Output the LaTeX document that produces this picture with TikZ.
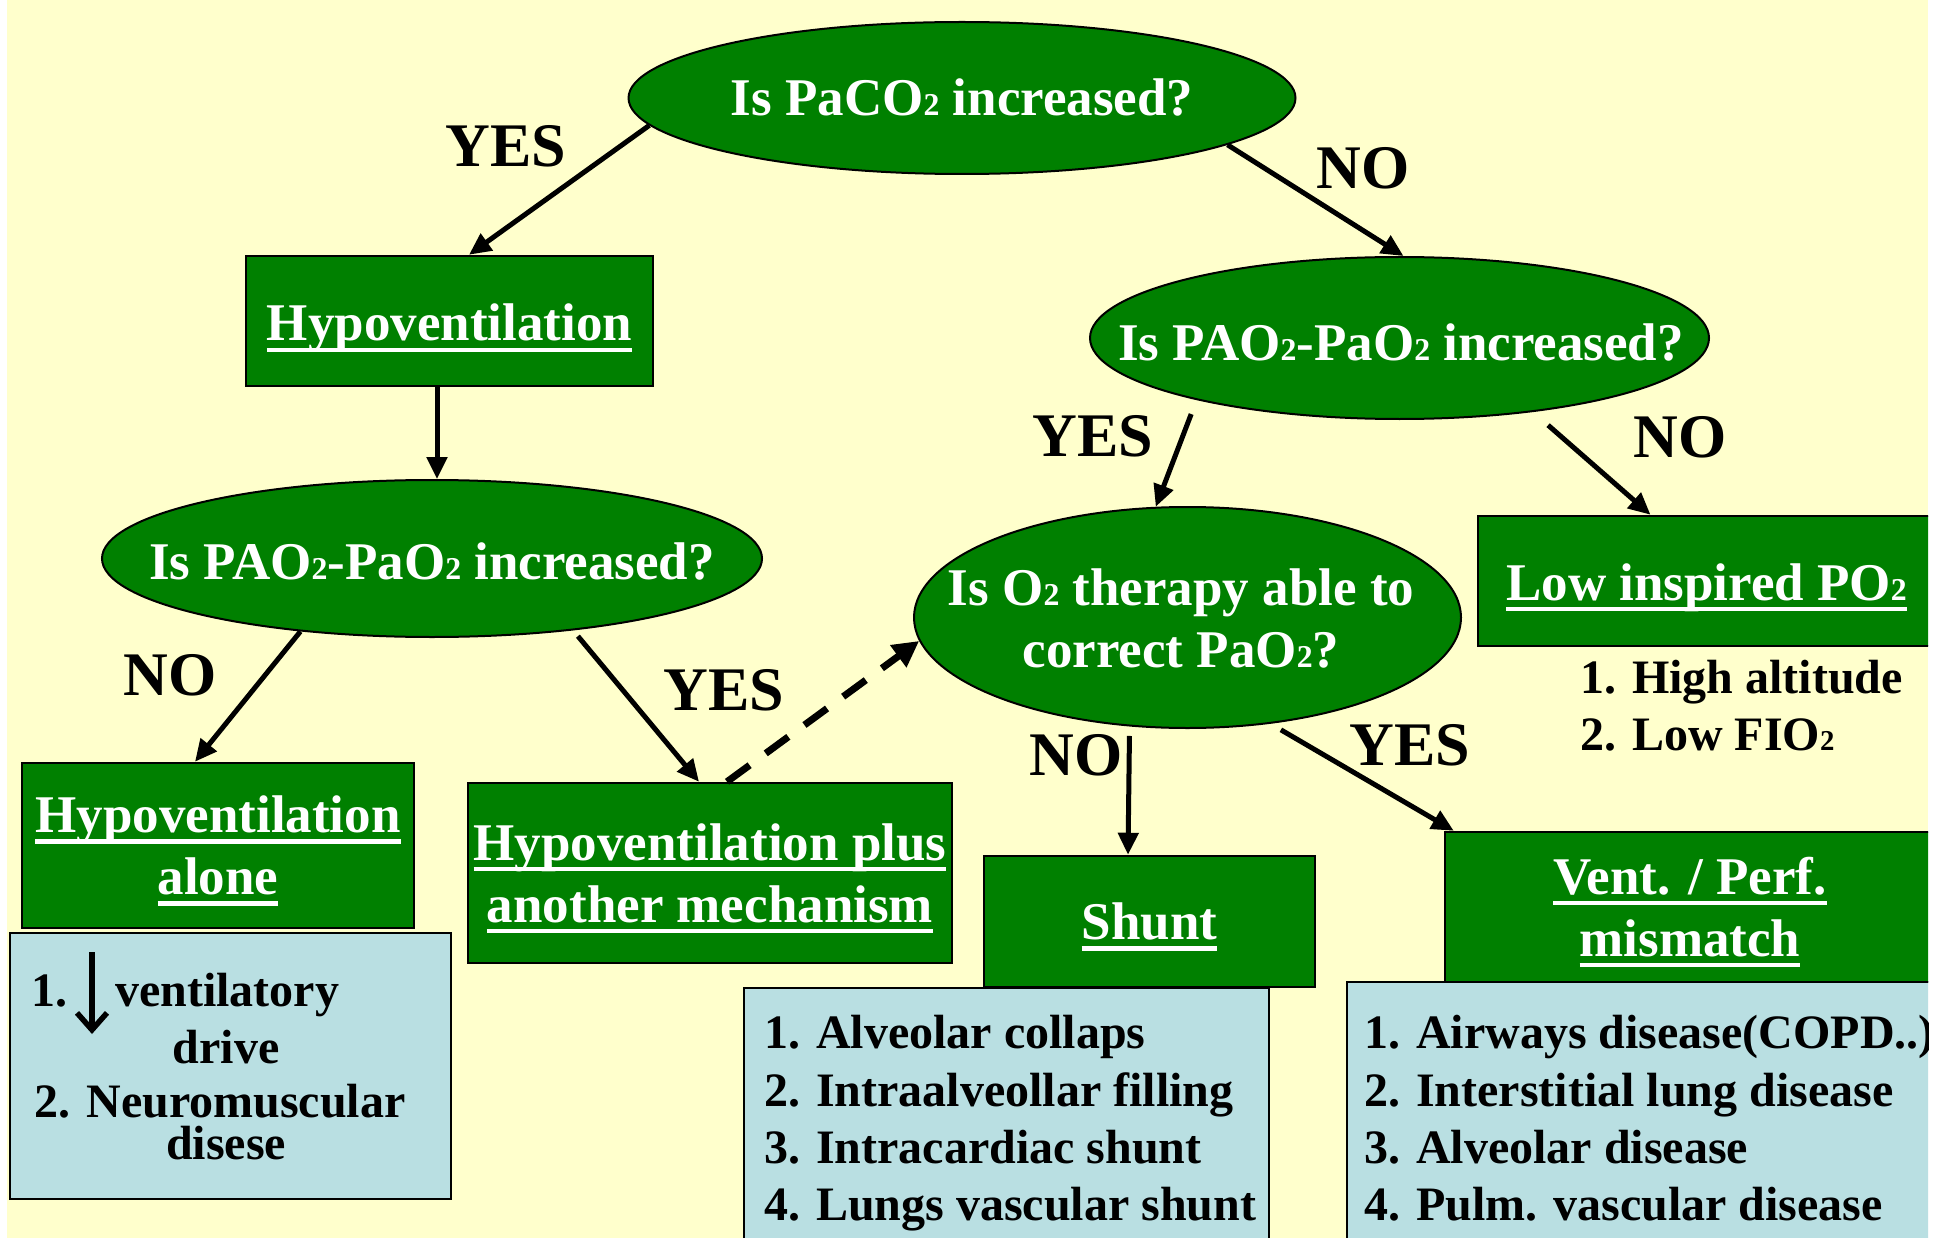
\documentclass[tikz,border=0pt]{standalone}
\usepackage{fontspec}
\setmainfont{Liberation Serif}
\usepackage{graphicx}
\usetikzlibrary{shapes.geometric,arrows.meta}
\definecolor{bgy}{HTML}{FFFFCC}
\definecolor{grn}{HTML}{008000}
\definecolor{lblue}{HTML}{B9DFE2}
\newcommand\ulw[1]{\setbox0=\hbox{#1}\rlap{\smash{\rule[-11pt]{\wd0}{4.5pt}}}\box0}
\newcommand\sbt[1]{\scalebox{0.6}{#1}}
\begin{document}
\begin{tikzpicture}[x=1pt,y=-1pt,
 big/.style={font=\bfseries\fontsize{53}{62}\selectfont},
 gbox/.style={rectangle,draw=black,line width=2.5pt,fill=grn,text=white,inner sep=0pt,align=center,big},
 lbox/.style={rectangle,draw=black,line width=2.5pt,fill=lblue,inner sep=0pt},
 gell/.style={ellipse,draw=black,line width=2pt,fill=grn,inner sep=0pt},
 etxt/.style={text=white,inner sep=0pt,align=center,big},
 lbl/.style={font=\bfseries\fontsize{62}{62}\selectfont,inner sep=0pt},
 lst/.style={font=\bfseries\fontsize{48}{48}\selectfont,inner sep=0pt,anchor=base west},
 lstc/.style={font=\bfseries\fontsize{48}{48}\selectfont,inner sep=0pt,anchor=base},
 arr/.style={line width=5pt,-{Triangle[length=22pt,width=20pt]}},
 darr/.style={line width=7pt,dash pattern=on 28pt off 20pt,-{Triangle[length=26pt,width=26pt]}}
]
\useasboundingbox (0,0) rectangle (1948,1238);
\fill[white] (0,0) rectangle (1948,1238);
\fill[bgy] (7,0) rectangle (1928,1238);
\clip (7,0) rectangle (1928,1238);

% ellipses
\node[gell,minimum width=667pt,minimum height=152pt] (top) at (962,98) {};
\node[gell,minimum width=619pt,minimum height=162pt] (r) at (1399.5,338) {};
\node[gell,minimum width=660pt,minimum height=157pt] (l) at (432,558.5) {};
\node[gell,minimum width=547pt,minimum height=221pt] (o2) at (1187.5,617.5) {};
\node[etxt] (toptxt) at (962,97) {Is PaCO\sbt{2} increased?};
\node[etxt] (rtxt) at (1401,342) {Is PAO\sbt{2}-PaO\sbt{2} increased?};
\node[etxt] (ltxt) at (432,561) {Is PAO\sbt{2}-PaO\sbt{2} increased?};
\node[etxt] (o2txt) at (1181,618) {Is O\sbt{2} therapy able to\\correct PaO\sbt{2}?};

% green boxes
\node[gbox,minimum width=407pt,minimum height=130pt] (hyp) at (449.5,321) {\raisebox{-20pt}[0pt][0pt]{\ulw{Hypoventilation}}};
\node[gbox,minimum width=392pt,minimum height=165pt] (hal) at (218,845.5) {\ulw{Hypoventilation}\\\ulw{alone}};
\node[gbox,minimum width=484pt,minimum height=180pt] (hplus) at (710,873) {\ulw{Hypoventilation plus}\\\ulw{another mechanism}};
\node[gbox,minimum width=457pt,minimum height=130pt] (low) at (1706.5,581) {\raisebox{-19pt}[0pt][0pt]{\ulw{Low inspired PO\sbt{2}}}};
\node[gbox,minimum width=331pt,minimum height=131pt] (shunt) at (1149.5,921.5) {\raisebox{-2pt}{\ulw{Shunt}}};
\node[gbox,minimum width=490pt,minimum height=150pt] (vp) at (1690,907) {\ulw{Vent. / Perf.}\\\ulw{mismatch}};

% list boxes
\node[lbox,minimum width=441pt,minimum height=266pt] (list1) at (230.5,1066) {};
\node[lbox,minimum width=525pt,minimum height=262pt] (list2) at (1006.5,1119) {};
\node[lbox,minimum width=598pt,minimum height=268pt] (list3) at (1646,1116) {};

% list 1
\node[lst] (l1a) at (31,1006) {1.\hspace*{48pt}ventilatory};
\draw[line width=5.5pt,-{Straight Barb[length=17pt,width=30pt]}] (92,952) -- (92,1034);
\node[lstc] (l1b) at (226,1063) {drive};
\node[lstc] (l1c) at (220,1117) {2. Neuromuscular};
\node[lstc] (l1d) at (226,1159) {disese};

% list 2
\node[lst] (l2a) at (764,1048) {1. Alveolar collaps};
\node[lst] (l2b) at (764,1106) {2. Intraalveollar filling};
\node[lst] (l2c) at (764,1163) {3. Intracardiac shunt};
\node[lst] (l2d) at (764,1220) {4. Lungs vascular shunt};

% list 3
\node[lst] (l3a) at (1364,1048) {1. Airways disease(COPD..)};
\node[lst] (l3b) at (1364,1106) {2. Interstitial lung disease};
\node[lst] (l3c) at (1364,1163) {3. Alveolar disease};
\node[lst] (l3d) at (1364,1220) {4. Pulm. vascular disease};

% low list
\node[lst] (l4a) at (1580,693) {1. High altitude};
\node[lst] (l4b) at (1580,750) {2. Low FIO\sbt{2}};

% labels
\node[lbl] (yes1) at (506,146) {YES};
\node[lbl] (no1) at (1363,168) {NO};
\node[lbl] (yes2) at (1093,436) {YES};
\node[lbl] (no2) at (1680,437) {NO};
\node[lbl] (no3) at (170,675) {NO};
\node[lbl] (yes3) at (724,690) {YES};
\node[lbl] (no4) at (1076,755) {NO};
\node[lbl] (yes4) at (1410,745) {YES};

% connectors
\draw[arr] (top.185.5) -- ([xshift=19.5pt]hyp.north);
\draw[arr] (top.350.5) -- ([xshift=4pt]r.north);
\draw[arr] ([xshift=-12.5pt]hyp.south) -- ([xshift=5pt]l.north);
\draw[arr] (l.209) -- ([xshift=-23pt]hal.north);
\draw[arr,shorten <=7.5pt] (l.333.4) -- ([xshift=-11pt]hplus.north);
\draw[darr] ([xshift=17pt]hplus.north) -- (o2.185);
\draw[arr,shorten <=15pt] (r.197.3) -- (o2.106);
\draw[arr,shorten <=20pt] (r.331.6) -- ([xshift=-56pt]low.north);
\draw[arr,shorten <=9.5pt] (o2.242) -- ([xshift=-21.5pt]shunt.north);
\draw[arr,shorten <=12pt] (o2.308.6) -- ([xshift=10pt]vp.north west);
\end{tikzpicture}
\end{document}
